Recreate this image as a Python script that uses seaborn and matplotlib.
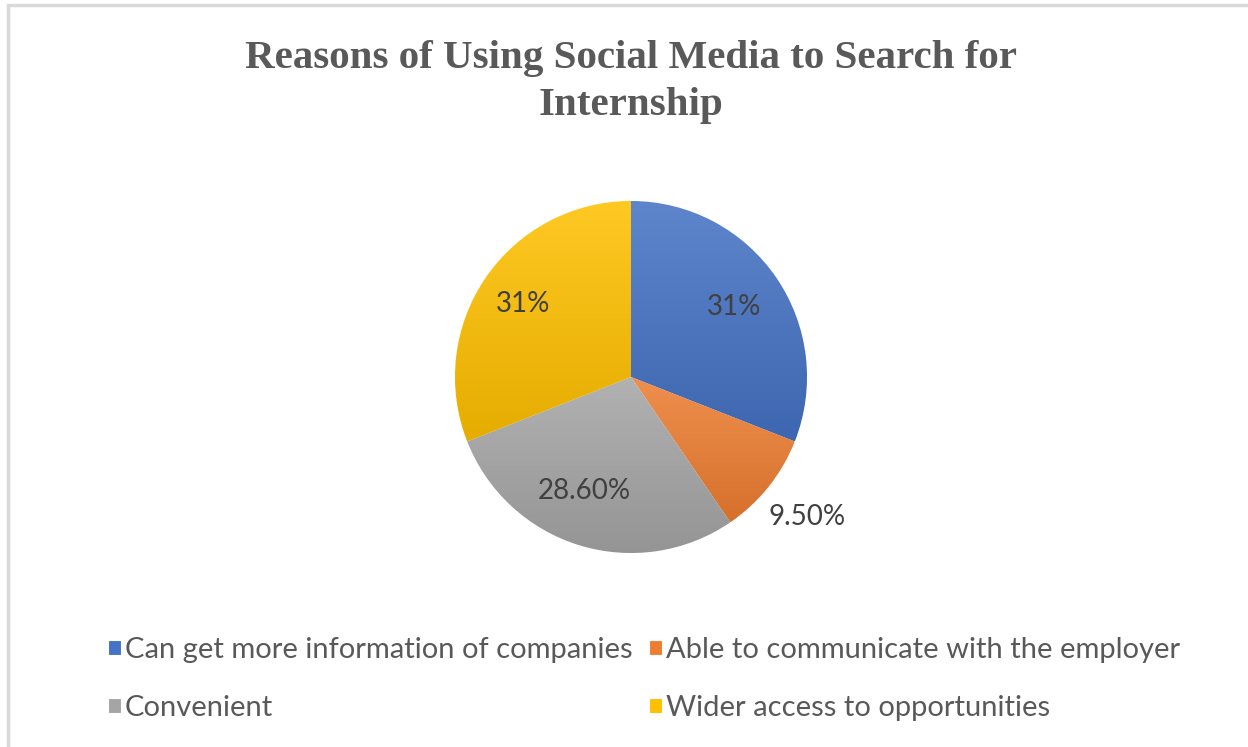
import numpy as np
import matplotlib
matplotlib.use("Agg")
import matplotlib.pyplot as plt
import seaborn as sns
from matplotlib.colors import to_rgb
from matplotlib.patches import Rectangle

# Survey data
categories = [
    "Can get more information of companies",
    "Able to communicate with the employer",
    "Convenient",
    "Wider access to opportunities",
]
shares = [31, 9.5, 28.6, 31]
value_labels = ["31%", "9.50%", "28.60%", "31%"]
slice_colors = ["#4472C4", "#ED7D31", "#A5A5A5", "#FFC000"]
chart_title = "Reasons of Using Social Media to Search for\nInternship"

sns.set_theme(style="white")
plt.rcParams["font.family"] = ["Lato", "DejaVu Sans"]

W, H = 1248, 747
fig = plt.figure(figsize=(W / 100, H / 100), dpi=100)
fig.patch.set_facecolor("white")


def fx(px):
    return px / W


def fy(py):
    return 1 - py / H


# chart-area border
fig.add_artist(Rectangle((fx(8), -0.1), 1.2, fy(5) + 0.1, transform=fig.transFigure,
                         fill=False, edgecolor="#d9d9d9", linewidth=2.5))

# pie
R_PX = 176
ax = fig.add_axes([fx(631 - R_PX), fy(377 + R_PX), 2 * R_PX / W, 2 * R_PX / H])
wedges, _ = ax.pie(shares, colors=slice_colors, startangle=90, counterclock=False,
                   radius=1, wedgeprops=dict(edgecolor="white", linewidth=0.8))


def mix(c, other, t):
    c = np.array(to_rgb(c))
    return c * (1 - t) + np.array(other) * t


# vertical gradient fill inside each slice
for w, col in zip(wedges, slice_colors):
    top = mix(col, (1, 1, 1), 0.14)
    bot = mix(col, (0, 0, 0), 0.10)
    t = np.linspace(0, 1, 256)[:, None, None]
    grad = top[None, None, :] * (1 - t) + bot[None, None, :] * t
    bb = w.get_path().get_extents()
    im = ax.imshow(grad, extent=(bb.x0, bb.x1, bb.y0, bb.y1), origin="upper",
                   aspect="auto", zorder=w.get_zorder() + 0.1, interpolation="bilinear")
    im.set_clip_path(w)

ax.set_xlim(-1, 1)
ax.set_ylim(-1, 1)
ax.set_aspect("equal")
ax.axis("off")

# value labels: radius and angular nudge (degrees) for each slice label
label_radius = [0.71, 1.28, 0.70, 0.74]
label_nudge = [0, 0, -5, 0]
for w, txt, r, d in zip(wedges, value_labels, label_radius, label_nudge):
    ang = np.deg2rad((w.theta1 + w.theta2) / 2 + d)
    ax.text(r * np.cos(ang), r * np.sin(ang), txt, ha="center", va="center",
            fontsize=20, color="#404040", zorder=5, clip_on=False)

# title
fig.text(fx(631), fy(82), chart_title, ha="center", va="center", fontsize=29.5,
         fontweight="bold", family=["Liberation Serif", "DejaVu Serif"],
         color="#595959", linespacing=1.38)

# legend (two columns, row-wise order)
order = [0, 2, 1, 3]
fig.legend([wedges[i] for i in order], [categories[i] for i in order], ncol=2,
           loc="center", bbox_to_anchor=(fx(644), fy(679)), frameon=False,
           fontsize=21, handlelength=0.45, handleheight=0.45, handletextpad=0.15,
           columnspacing=0.55, labelspacing=1.1, labelcolor="#595959")

fig.savefig("out.png", dpi=100)
